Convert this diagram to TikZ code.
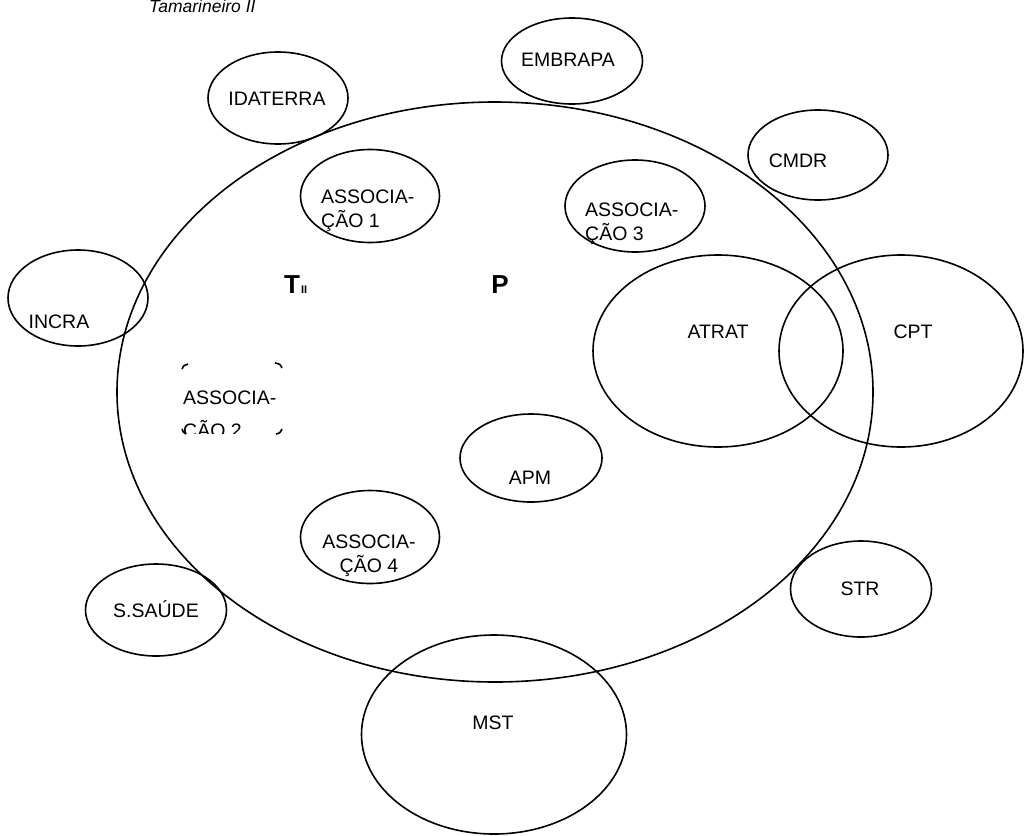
\documentclass[tikz,border=0pt]{standalone}
\usepackage{fontspec}
\setmainfont{Liberation Sans}
\usetikzlibrary{shapes.geometric}
\begin{document}
\begin{tikzpicture}[x=1pt,y=-1pt,
  ell/.style={draw, ellipse, line width=1.6pt, inner sep=0pt},
  lbl/.style={font=\fontsize{19.5}{23}\selectfont, inner sep=0pt, anchor=base},
  lbll/.style={lbl, anchor=base west},
  bigl/.style={font=\bfseries\fontsize{26}{30}\selectfont, inner sep=0pt, anchor=base},
  corner/.style={line width=1.6pt}]
\useasboundingbox (0,0) rectangle (1024,835);
% title
\node[font=\itshape\fontsize{17.5}{20}\selectfont, inner sep=0pt, anchor=base west] (title) at (149,12.5) {Tamarineiro II};
% main ellipse
\node[ell, minimum width=756pt, minimum height=580pt] (tam) at (495,392) {};
% surrounding ellipses
\node[ell, minimum width=141pt, minimum height=86pt] (embrapa) at (572,61) {};
\node[ell, minimum width=140pt, minimum height=92pt] (idaterra) at (278,98) {};
\node[ell, minimum width=140pt, minimum height=90pt] (cmdr) at (818,155) {};
\node[ell, minimum width=139pt, minimum height=93pt] (as1) at (370,196) {};
\node[ell, minimum width=140pt, minimum height=92pt] (as3) at (635,206) {};
\node[ell, minimum width=140pt, minimum height=96pt] (incra) at (78,298) {};
\node[ell, minimum width=250pt, minimum height=192pt] (atrat) at (718,351) {};
\node[ell, minimum width=244pt, minimum height=192pt] (cpt) at (901,351) {};
\node[ell, minimum width=142pt, minimum height=88pt] (apm) at (531,458) {};
\node[ell, minimum width=139pt, minimum height=93pt] (as4) at (370,537) {};
\node[ell, minimum width=141pt, minimum height=96pt] (str) at (861,589) {};
\node[ell, minimum width=141pt, minimum height=92pt] (ssaude) at (156,610) {};
\node[ell, minimum width=265pt, minimum height=199pt] (mst) at (494,734.5) {};
% ASSOCIACAO 2 corner marks
\coordinate (c1a) at (182,369); \coordinate (c1b) at (188,364);
\coordinate (c2a) at (275,363); \coordinate (c2b) at (282,368);
\coordinate (c3a) at (182,429); \coordinate (c3b) at (186,434);
\coordinate (c4a) at (276,434); \coordinate (c4b) at (282,429);
\draw[corner] (c1a) .. controls (183,366) .. (c1b);
\draw[corner] (c2a) .. controls (280,364) .. (c2b);
\draw[corner] (c3a) .. controls (183,432) .. (c3b);
\draw[corner] (c4a) .. controls (280,433) .. (c4b);
% labels
\node[lbl] (tembrapa) at (568,66) {EMBRAPA};
\node[lbl] (tidaterra) at (277,105) {IDATERRA};
\node[lbl] (tcmdr) at (798,167) {CMDR};
\node[lbll] (tas1a) at (321,203) {ASSOCIA-};
\node[lbll] (tas1b) at (321,227) {ÇÃO 1};
\node[lbll] (tas3a) at (585,216) {ASSOCIA-};
\node[lbll] (tas3b) at (585,240) {ÇÃO 3};
\node[lbl] (tincra) at (59,328) {INCRA};
\node[lbl] (tatrat) at (718,338) {ATRAT};
\node[lbl] (tcpt) at (913,338) {CPT};
\node[lbll] (tas2a) at (183,404) {ASSOCIA-};
\begin{scope}
\clip (170,410) rectangle (300,433);
\node[lbll] (tas2b) at (183,437) {ÇÃO 2};
\end{scope}
\node[lbl] (tapm) at (530,484) {APM};
\node[lbl] (tas4a) at (369,548) {ASSOCIA-};
\node[lbl] (tas4b) at (369,572) {ÇÃO 4};
\node[lbl] (tstr) at (860,595) {STR};
\node[lbl] (tssaude) at (156,617) {S.SAÚDE};
\node[lbl] (tmst) at (493,729) {MST};
\node[bigl, anchor=base west] (tii) at (284,293) {T\kern1pt{\fontsize{11}{12}\selectfont II}};
\node[bigl] (tp) at (500,293) {P};
\end{tikzpicture}
\end{document}
